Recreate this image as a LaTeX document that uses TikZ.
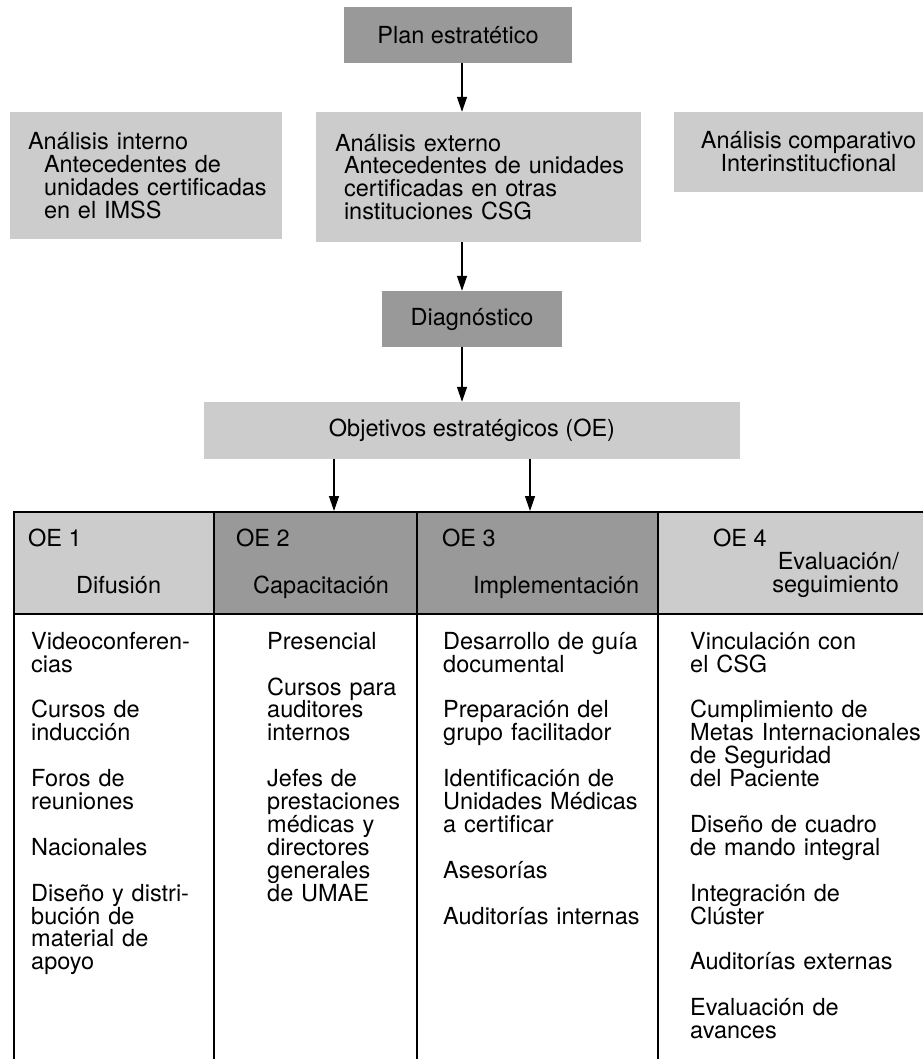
\documentclass[tikz,border=0pt]{standalone}
\usepackage{fontspec}
\setmainfont{TeX Gyre Heros}
\usetikzlibrary{arrows.meta, positioning, calc}
\definecolor{boxlight}{HTML}{CCCCCC}
\definecolor{boxdark}{HTML}{999999}
\newcommand{\diagfont}{\fontsize{23.5}{22.9}\selectfont}
\newcommand{\skipline}{\\[22.9pt]}
\tikzset{
    box/.style={fill=boxlight, inner sep=0pt, font=\diagfont, align=center},
    darkbox/.style={box, fill=boxdark},
    cell/.style={draw, line width=1.5pt, anchor=north west, inner sep=0pt},
    arr/.style={-{Triangle[length=15pt, width=10pt]}, line width=1.3pt},
    lbl/.style={inner sep=0pt, font=\diagfont},
    txt/.style={lbl, align=left, text width=240pt, anchor=north west, execute at begin node={\rule{0pt}{18pt}}}
}

\begin{document}
\begin{tikzpicture}[x=1pt, y=-1pt]
    \useasboundingbox (0,0) rectangle (922,1059);

    % top of the chart
    \node[darkbox, minimum width=228pt, minimum height=56pt] (plan) at (458,35) {Plan estratético};

    \node[box, align=left, text width=236pt, minimum width=272pt, minimum height=127pt] (intern) at (146,175.5) {
      \mbox{Análisis interno}\\
      \mbox{\hspace{16pt}Antecedentes de}\\
      \mbox{\hspace{16pt}unidades certificadas}\\
      \mbox{\hspace{16pt}en el IMSS}
    };
    \node[box, align=left, text width=287pt, minimum width=325pt, minimum height=130pt] (ext) at (478.5,177) {
      \mbox{Análisis externo}\\
      \mbox{\hspace{9pt}Antecedentes de unidades}\\
      \mbox{\hspace{9pt}certificadas en otras}\\
      \mbox{\hspace{9pt}instituciones CSG}
    };
    \node[box, minimum width=269pt, minimum height=80pt] (comp) at (808.5,152) {Análisis comparativo\\Interinstitucfional};

    \node[darkbox, minimum width=180pt, minimum height=56pt] (diag) at (472,319) {Diagnóstico};
    \node[box, minimum width=536pt, minimum height=57pt] (obj) at (472,430.5) {Objetivos estratégicos (OE)};

    % table of objectives
    \node[cell, minimum width=200pt, minimum height=470pt] (c1) at (13,613) {};
    \node[cell, minimum width=203pt, minimum height=470pt] (c2) at (213,613) {};
    \node[cell, minimum width=241pt, minimum height=470pt] (c3) at (416,613) {};
    \node[cell, minimum width=286pt, minimum height=470pt] (c4) at (657,613) {};

    \node[cell, fill=boxlight, minimum width=200pt, minimum height=102pt] (h1) at (13,511) {};
    \node[cell, fill=boxdark, minimum width=203pt, minimum height=102pt] (h2) at (213,511) {};
    \node[cell, fill=boxdark, minimum width=241pt, minimum height=102pt] (h3) at (416,511) {};
    \node[cell, fill=boxlight, minimum width=286pt, minimum height=102pt] (h4) at (657,511) {};

    \node[lbl, anchor=base west] (oe1) at (28,546) {OE 1};
    \node[lbl, anchor=base west] (oe2) at (236,546) {OE 2};
    \node[lbl, anchor=base west] (oe3) at (442,546) {OE 3};
    \node[lbl, anchor=base west] (oe4) at (713,546) {OE 4};

    \node[lbl, anchor=base west] (dif) at (76,593) {Difusión};
    \node[lbl, anchor=base west] (cap) at (253,593) {Capacitación};
    \node[lbl, anchor=base west] (imp) at (473,593) {Implementación};
    \node[txt, text width=, align=right, anchor=north east] (eval) at (899,552) {Evaluación/\\seguimiento};

    \node[txt] (t1) at (31,631) {
      Videoconferen-\\cias\skipline
      Cursos de\\inducción\skipline
      Foros de\\reuniones\skipline
      Nacionales\skipline
      Diseño y distri-\\bución de\\material de\\apoyo
    };
    \node[txt] (t2) at (267,631) {
      Presencial\skipline
      Cursos para\\auditores\\internos\skipline
      Jefes de\\prestaciones\\médicas y\\directores\\generales\\de UMAE
    };
    \node[txt] (t3) at (443,631) {
      Desarrollo de guía\\documental\skipline
      Preparación del\\grupo facilitador\skipline
      Identificación de\\Unidades Médicas\\a certificar\skipline
      Asesorías\skipline
      Auditorías internas
    };
    \node[txt] (t4) at (690,631) {
      Vinculación con\\el CSG\skipline
      Cumplimiento de\\Metas Internacionales\\de Seguridad\\del Paciente\skipline
      Diseño de cuadro\\de mando integral\skipline
      Integración de\\Clúster\skipline
      Auditorías externas\skipline
      Evaluación de\\avances
    };

    % connectors
    \draw[arr] ([xshift=4pt]plan.south) -- ([xshift=4pt]plan.south |- ext.north);
    \draw[arr] ([xshift=-16.5pt]ext.south) -- ([xshift=-16.5pt]ext.south |- diag.north);
    \draw[arr] ([xshift=-10pt]diag.south) -- ([xshift=-10pt]diag.south |- obj.north);
    \draw[arr] ([xshift=-138pt]obj.south) -- ([xshift=-138pt]obj.south |- h2.north);
    \draw[arr] ([xshift=58pt]obj.south) -- ([xshift=58pt]obj.south |- h3.north);
\end{tikzpicture}
\end{document}
